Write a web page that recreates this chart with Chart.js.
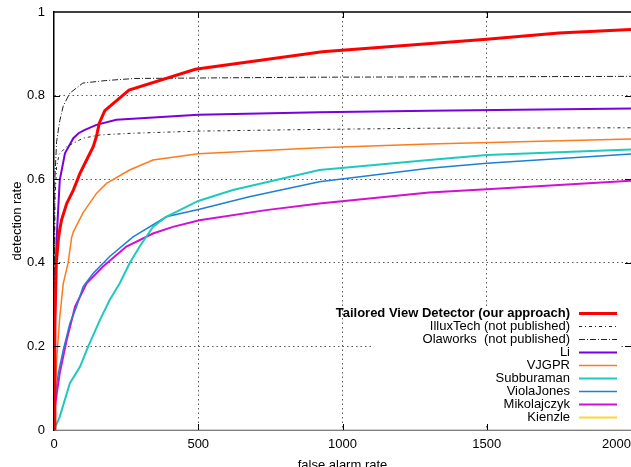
<!DOCTYPE html>
<html>
<head>
<meta charset="utf-8">
<script src="https://cdn.jsdelivr.net/npm/chart.js@4.4.1/dist/chart.umd.min.js"></script>
<style>
  html, body { margin: 0; padding: 0; background: #fff; }
  #roc { display: block; }
</style>
</head>
<body>
<canvas id="roc" width="631" height="467"></canvas>
<script>
// tick values
let xTicks = [0, 500, 1000, 1500, 2000];
let yTicks = [0, 0.2, 0.4, 0.6, 0.8, 1];

// series: false alarms (x) and detection rate (y)
let labels = [
    'Tailored View Detector (our approach)',
    'IlluxTech (not published)',
    'Olaworks  (not published)',
    'Li',
    'VJGPR',
    'Subburaman',
    'ViolaJones',
    'Mikolajczyk',
    'Kienzle'
];

let tailoredFa = [0, 3, 8, 15, 20, 26, 44, 67, 90, 113, 136, 147, 157, 176, 260, 490, 930, 1500, 1750, 2000];
let tailoredDr = [0, 0.25, 0.4, 0.455, 0.48, 0.502, 0.542, 0.574, 0.614, 0.646, 0.678, 0.702, 0.734, 0.764, 0.813, 0.863, 0.905, 0.935, 0.95, 0.958];

let illuxFa = [0, 1, 3, 9, 18, 44, 100, 160, 275, 500, 900, 1300, 2000];
let illuxDr = [0, 0.3, 0.55, 0.63, 0.66, 0.678, 0.698, 0.706, 0.71, 0.715, 0.719, 0.722, 0.723];

let olaFa = [0, 1, 3, 9, 20, 32, 55, 100, 180, 280, 900, 2000];
let olaDr = [0, 0.3, 0.6, 0.69, 0.74, 0.775, 0.806, 0.83, 0.836, 0.841, 0.844, 0.846];

let liFa = [0, 2, 5, 9, 15, 20, 38, 67, 85, 107, 147, 216, 500, 920, 1300, 2000];
let liDr = [0, 0.2, 0.35, 0.455, 0.534, 0.598, 0.662, 0.698, 0.71, 0.718, 0.73, 0.742, 0.754, 0.76, 0.764, 0.769];

let vjgprFa = [0, 3, 9, 20, 32, 49, 61, 67, 101, 147, 182, 262, 343, 500, 920, 1300, 2000];
let vjgprDr = [0, 0.07, 0.167, 0.27, 0.35, 0.4, 0.46, 0.474, 0.52, 0.566, 0.59, 0.622, 0.646, 0.661, 0.675, 0.684, 0.696];

let subFa = [0, 3, 20, 55, 90, 118, 159, 193, 228, 262, 297, 343, 389, 500, 620, 920, 1300, 1500, 2000];
let subDr = [0, 0, 0.032, 0.112, 0.151, 0.199, 0.263, 0.311, 0.351, 0.399, 0.439, 0.486, 0.51, 0.548, 0.574, 0.622, 0.646, 0.658, 0.671];

let vjFa = [0, 3, 15, 32, 55, 78, 101, 136, 193, 274, 389, 504, 677, 920, 1300, 1500, 2000];
let vjDr = [0, 0.072, 0.136, 0.191, 0.255, 0.295, 0.343, 0.375, 0.415, 0.462, 0.51, 0.528, 0.558, 0.594, 0.626, 0.638, 0.66];

let mikoFa = [0, 3, 20, 44, 73, 113, 170, 251, 343, 412, 504, 735, 920, 1300, 1500, 2000];
let mikoDr = [0, 0.056, 0.136, 0.215, 0.295, 0.351, 0.391, 0.439, 0.47, 0.486, 0.502, 0.526, 0.542, 0.568, 0.576, 0.596];

let kienzleFa = [0, 2000];
let kienzleDr = [0, 0];

function pts(xs, ys) {
    return xs.map((x, i) => ({ x: x, y: ys[i] }));
}

function series(i, xs, ys, color, width, dash) {
    return {
        label: labels[i],
        data: pts(xs, ys),
        borderColor: color,
        backgroundColor: color,
        borderWidth: width,
        borderDash: dash || [],
        pointRadius: 0,
        tension: 0,
        fill: false
    };
}

let xMax = xTicks[xTicks.length - 1];
let gridColor = 'rgba(0, 0, 0, 0.65)';

// gnuplot style key: right aligned titles, sample line on the right
let keyPlugin = {
    id: 'gnuplotKey',
    afterDatasetsDraw(chart) {
        let ctx = chart.ctx;
        let a = chart.chartArea;
        let sampleRight = a.right - 14;
        let sampleLeft = sampleRight - 38;
        let textRight = sampleLeft - 9;
        let rowH = 13;
        let firstRow = a.bottom - 117;
        let sets = chart.data.datasets;

        ctx.save();
        ctx.fillStyle = '#fff';
        ctx.fillRect(textRight - 198, firstRow - 7, sampleRight + 4 - (textRight - 198), rowH * (sets.length - 1) + 15);

        sets.forEach((ds, i) => {
            let y = firstRow + i * rowH;
            ctx.font = (i === 0 ? 'bold ' : '') + '13px "Liberation Sans", Arial, sans-serif';
            ctx.fillStyle = '#000';
            ctx.textAlign = 'right';
            ctx.textBaseline = 'middle';
            ctx.fillText(ds.label, textRight, y);

            ctx.beginPath();
            ctx.strokeStyle = ds.borderColor;
            ctx.lineWidth = ds.borderWidth;
            ctx.setLineDash(ds.borderDash);
            ctx.moveTo(sampleLeft, y + 0.5);
            ctx.lineTo(sampleRight, y + 0.5);
            ctx.stroke();
        });
        ctx.restore();
    },
    afterDraw(chart) {
        // top border and inward tick marks on all sides
        let ctx = chart.ctx;
        let a = chart.chartArea;
        let xs = chart.scales.x;
        let ys = chart.scales.y;
        let len = 6;
        ctx.save();
        ctx.strokeStyle = '#000';
        ctx.lineWidth = 1.5;
        ctx.setLineDash([]);
        ctx.beginPath();
        ctx.moveTo(a.left, a.top);
        ctx.lineTo(a.right, a.top);
        ctx.stroke();

        ctx.lineWidth = 1;
        ctx.beginPath();
        xs.ticks.forEach(t => {
            let px = Math.round(xs.getPixelForValue(t.value)) + 0.5;
            if (px <= a.left + 1 || px >= a.right - 1) return;
            ctx.moveTo(px, a.bottom);
            ctx.lineTo(px, a.bottom - len);
            ctx.moveTo(px, a.top);
            ctx.lineTo(px, a.top + len);
        });
        ys.ticks.forEach(t => {
            let py = Math.round(ys.getPixelForValue(t.value)) + 0.5;
            if (py <= a.top + 1 || py >= a.bottom - 1) return;
            ctx.moveTo(a.left, py);
            ctx.lineTo(a.left + len, py);
            ctx.moveTo(a.right, py);
            ctx.lineTo(a.right - len, py);
        });
        ctx.stroke();
        ctx.restore();
    }
};

Chart.defaults.font.family = '"Liberation Sans", Arial, sans-serif';
Chart.defaults.font.size = 13;
Chart.defaults.color = '#000';

let ctx = document.getElementById('roc').getContext('2d');
new Chart(ctx, {
    type: 'line',
    data: {
        datasets: [
            series(0, tailoredFa, tailoredDr, '#ff0000', 3),
            series(1, illuxFa, illuxDr, '#222222', 1, [3, 3, 1, 3]),
            series(2, olaFa, olaDr, '#222222', 1, [6, 2, 1, 2]),
            series(3, liFa, liDr, '#7a00e0', 2),
            series(4, vjgprFa, vjgprDr, '#ff7a1e', 1.5),
            series(5, subFa, subDr, '#1ec9be', 2),
            series(6, vjFa, vjDr, '#1c80d4', 1.5),
            series(7, mikoFa, mikoDr, '#d40fd4', 2),
            series(8, kienzleFa, kienzleDr, '#ffd633', 2)
        ]
    },
    options: {
        responsive: false,
        animation: false,
        layout: {
            padding: { top: 12, right: 0, bottom: 0, left: 0 }
        },
        plugins: {
            legend: { display: false },
            tooltip: { enabled: false }
        },
        scales: {
            x: {
                type: 'linear',
                min: xTicks[0],
                max: xMax,
                afterBuildTicks: scale => {
                    scale.ticks = xTicks.map(v => ({ value: v }));
                },
                ticks: {
                    padding: 7,
                    maxRotation: 0,
                    autoSkip: false,
                    // last label sits at the edge, pad it so it stays inside
                    callback: v => v === xMax ? String(v) + '        ' : String(v)
                },
                grid: {
                    drawTicks: false,
                    color: c => (c.tick && (c.tick.value === 0 || c.tick.value === xMax)) ? 'rgba(0,0,0,0)' : gridColor,
                    lineWidth: 1
                },
                border: { color: '#000', width: 1.5, dash: [1.5, 3] },
                title: {
                    display: true,
                    text: 'false alarm rate',
                    padding: { top: 0, bottom: -6 }
                },
                afterFit: scale => {
                    scale.height = 37;
                    scale.paddingRight = 0;
                    scale.paddingLeft = 0;
                }
            },
            y: {
                min: yTicks[0],
                max: yTicks[yTicks.length - 1],
                afterBuildTicks: scale => {
                    scale.ticks = yTicks.map(v => ({ value: v }));
                },
                ticks: {
                    padding: 9,
                    callback: v => String(v)
                },
                grid: {
                    drawTicks: false,
                    color: c => (c.tick && (c.tick.value === 0 || c.tick.value === 1)) ? 'rgba(0,0,0,0)' : gridColor,
                    lineWidth: 1
                },
                border: { color: '#000', width: 1.5, dash: [1.5, 3] },
                title: {
                    display: true,
                    text: 'detection rate',
                    padding: { top: 10, bottom: 0 }
                },
                afterFit: scale => {
                    scale.width = 54;
                    scale.paddingTop = 0;
                    scale.paddingBottom = 0;
                }
            }
        }
    },
    plugins: [keyPlugin]
});
</script>
</body>
</html>
